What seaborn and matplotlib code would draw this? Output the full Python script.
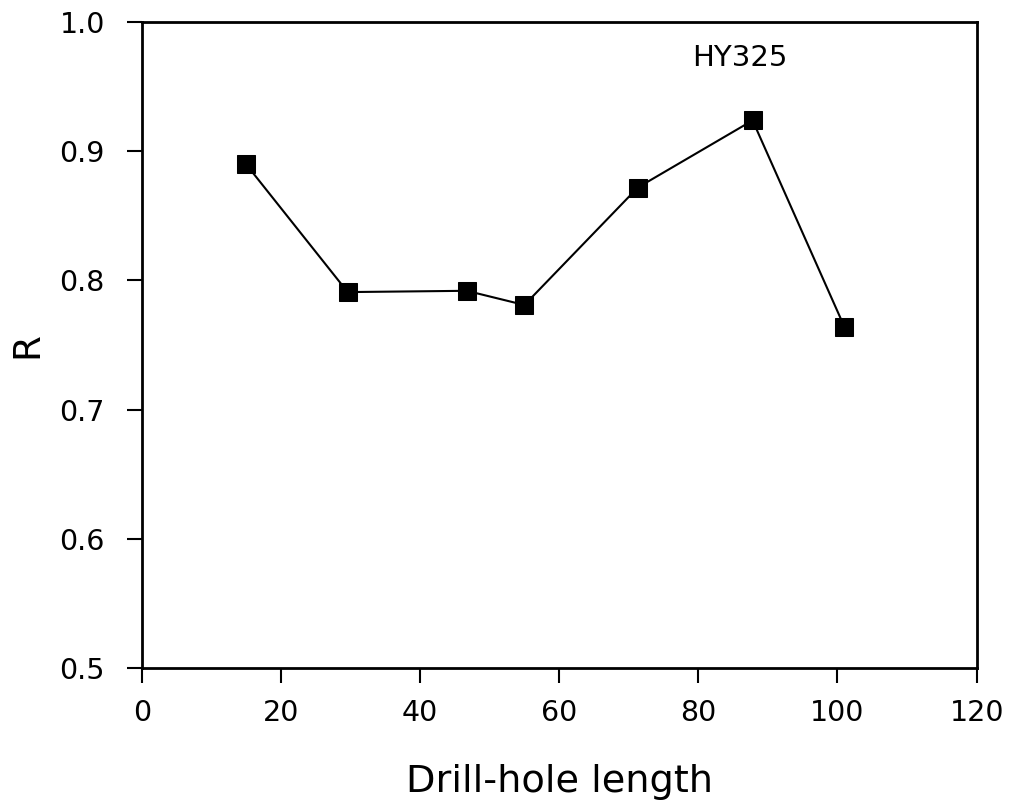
import matplotlib
matplotlib.use("Agg")
import matplotlib.pyplot as plt
import seaborn as sns
import pandas as pd

drill_hole_length = [15.0, 29.6, 46.7, 55.0, 71.3, 87.8, 101.0]
r_values = [0.890, 0.791, 0.792, 0.781, 0.872, 0.924, 0.764]
x_ticks = [0, 20, 40, 60, 80, 100, 120]
y_ticks = [0.5, 0.6, 0.7, 0.8, 0.9, 1.0]
label_text = "HY325"

sns.set_theme(style="white")
plt.rcParams['font.family'] = ['DejaVu Sans']

df = pd.DataFrame({"x": drill_hole_length, "R": r_values})

fig = plt.figure(figsize=(10.11, 8.06), dpi=100)
ax = fig.add_axes([0.1402, 0.1716, 0.966 - 0.1402, 0.9723 - 0.1716])

sns.lineplot(data=df, x="x", y="R", ax=ax, color="black", linewidth=1.5,
             marker="s", markersize=13.5, markerfacecolor="black",
             markeredgecolor="black")

ax.set_xlim(0, 120)
ax.set_ylim(0.5, 1.0)
ax.set_xticks(x_ticks)
ax.set_yticks(y_ticks)
ax.set_xticklabels([str(t) for t in x_ticks])
ax.set_yticklabels([f"{t:.1f}" for t in y_ticks])

for s in ax.spines.values():
    s.set_visible(True)
    s.set_color("black")
    s.set_linewidth(2)

ax.tick_params(axis="both", which="major", direction="out", length=10.5,
               width=1.5, color="black", labelsize=20.5, labelcolor="black",
               bottom=True, left=True, top=False, right=False)
ax.tick_params(axis="y", pad=16)
ax.tick_params(axis="x", pad=12)

ax.set_xlabel("Drill-hole length", fontsize=27.5, color="black", labelpad=27)
ax.set_ylabel("R", fontsize=27, color="black", labelpad=10)

ax.text(86.0, 0.972, label_text, fontsize=21, color="black",
        ha="center", va="center")

ax.grid(False)
fig.savefig("out.png", dpi=100, facecolor="white")
